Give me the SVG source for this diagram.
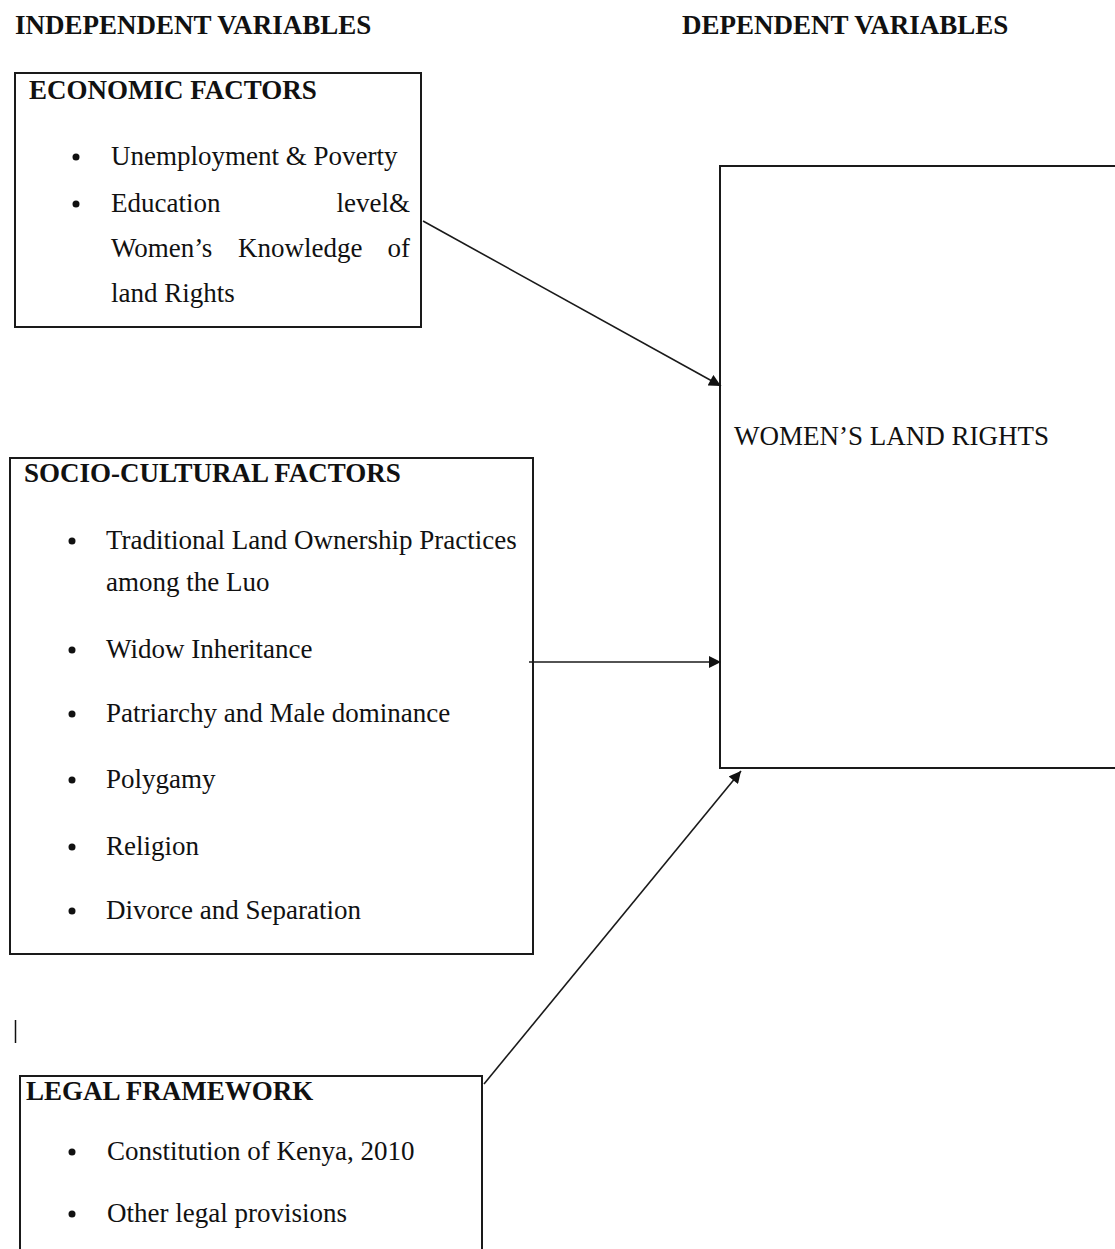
<svg xmlns="http://www.w3.org/2000/svg" width="1115" height="1249" viewBox="0 0 1115 1249">
<defs>
<style>
text{font-family:"Liberation Serif","Times New Roman",serif;font-size:27px;fill:#111}
.b{font-weight:bold}
.box{fill:none;stroke:#1a1a1a;stroke-width:2}
.conn{fill:none;stroke:#1a1a1a;stroke-width:1.6}
.dot{fill:#111}
</style>
<marker id="ah" viewBox="0 0 10 10" refX="10" refY="5" markerWidth="13" markerHeight="12" markerUnits="userSpaceOnUse" orient="auto">
<path d="M0,0 L10,5 L0,10 z" fill="#111"/>
</marker>
</defs>
<rect width="1115" height="1249" fill="#fff"/>
<text class="b" x="15" y="34">INDEPENDENT VARIABLES</text>
<text class="b" x="682" y="34">DEPENDENT VARIABLES</text>

<g id="economic">
<rect class="box" x="15" y="73" width="406" height="254"/>
<text class="b" x="29" y="99">ECONOMIC FACTORS</text>
<circle class="dot" cx="76" cy="157" r="3.5"/>
<text x="111" y="165">Unemployment &amp; Poverty</text>
<circle class="dot" cx="76" cy="204" r="3.5"/>
<text x="111" y="212">Education</text>
<text x="410" y="212" text-anchor="end">level&amp;</text>
<text x="111" y="257">Women’s</text>
<text x="238" y="257">Knowledge</text>
<text x="410" y="257" text-anchor="end">of</text>
<text x="111" y="302">land Rights</text>
</g>

<g id="socio">
<rect class="box" x="10" y="458" width="523" height="496"/>
<text class="b" x="24" y="482">SOCIO-CULTURAL FACTORS</text>
<circle class="dot" cx="72" cy="541" r="3.5"/>
<text x="106" y="549">Traditional Land Ownership Practices</text>
<text x="106" y="591">among the Luo</text>
<circle class="dot" cx="72" cy="650" r="3.5"/>
<text x="106" y="658">Widow Inheritance</text>
<circle class="dot" cx="72" cy="714" r="3.5"/>
<text x="106" y="722">Patriarchy and Male dominance</text>
<circle class="dot" cx="72" cy="780" r="3.5"/>
<text x="106" y="788">Polygamy</text>
<circle class="dot" cx="72" cy="847" r="3.5"/>
<text x="106" y="855">Religion</text>
<circle class="dot" cx="72" cy="911" r="3.5"/>
<text x="106" y="919">Divorce and Separation</text>
</g>

<g id="legal">
<rect class="box" x="20" y="1076" width="462" height="200"/>
<text class="b" x="26" y="1100">LEGAL FRAMEWORK</text>
<circle class="dot" cx="72" cy="1152" r="3.5"/>
<text x="107" y="1160">Constitution of Kenya, 2010</text>
<circle class="dot" cx="72" cy="1214" r="3.5"/>
<text x="107" y="1222">Other legal provisions</text>
</g>

<g id="womens-land-rights">
<rect class="box" x="720" y="166" width="420" height="602"/>
<text x="734" y="445">WOMEN’S LAND RIGHTS</text>
</g>

<g id="cursor">
<line x1="15.5" y1="1020" x2="15.5" y2="1043" stroke="#111" stroke-width="1.5"/>
</g>

<g id="connectors">
<line class="conn" x1="423" y1="221" x2="721" y2="386" marker-end="url(#ah)"/>
<line class="conn" x1="529" y1="662" x2="721" y2="662" marker-end="url(#ah)"/>
<line class="conn" x1="484" y1="1084" x2="741" y2="771" marker-end="url(#ah)"/>
</g>
</svg>
